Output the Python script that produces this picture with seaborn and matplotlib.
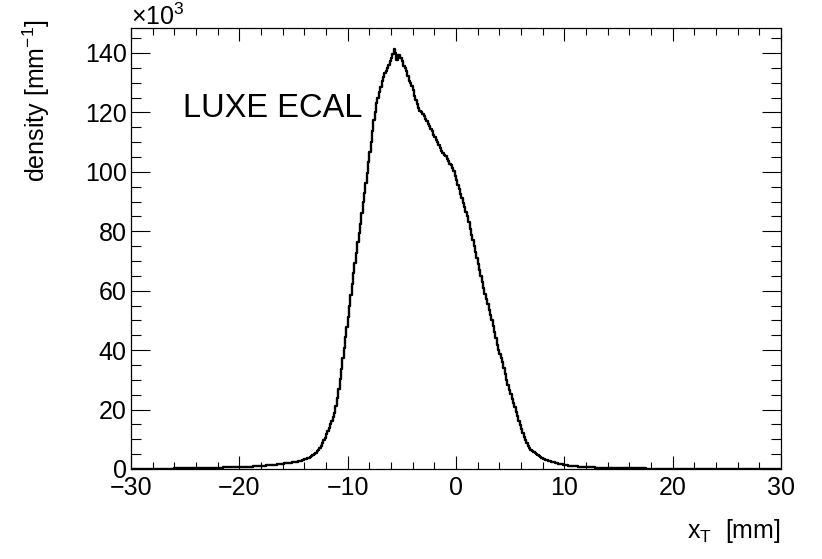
import numpy as np
import pandas as pd
import matplotlib
matplotlib.use("Agg")
import matplotlib.pyplot as plt
import seaborn as sns
from matplotlib.ticker import MultipleLocator

# bin edges of the x_T histogram [mm], 0.125 mm bins
bin_lo, bin_hi, bin_w = -30.0, 30.0, 0.125

# density per bin, in units of 10^3 mm^-1
# -30 .. -13 mm
tail_left = [0.05, 0.05, 0.05, 0.05, 0.06, 0.06, 0.06, 0.06, 0.07, 0.07, 0.07, 0.08, 0.08, 0.08, 0.09, 0.09,
             0.10, 0.10, 0.10, 0.10, 0.11, 0.11, 0.12, 0.12, 0.13, 0.13, 0.14, 0.14, 0.15, 0.15, 0.16, 0.16,
             0.17, 0.17, 0.18, 0.19, 0.20, 0.20, 0.21, 0.22, 0.23, 0.24, 0.25, 0.26, 0.27, 0.28, 0.29, 0.30,
             0.31, 0.32, 0.33, 0.34, 0.35, 0.36, 0.37, 0.38, 0.39, 0.40, 0.41, 0.42, 0.43, 0.44, 0.45, 0.46,
             0.47, 0.48, 0.49, 0.50, 0.51, 0.52, 0.53, 0.54, 0.55, 0.56, 0.57, 0.58, 0.59, 0.60, 0.61, 0.62,
             0.63, 0.65, 0.67, 0.69, 0.71, 0.73, 0.75, 0.77, 0.79, 0.82, 0.85, 0.88, 0.91, 0.94, 0.97, 1.00,
             1.03, 1.07, 1.11, 1.15, 1.19, 1.23, 1.27, 1.32, 1.36, 1.41, 1.46, 1.51, 1.57, 1.63, 1.68, 1.74,
             1.80, 1.86, 1.92, 1.98, 2.04, 2.10, 2.17, 2.24, 2.31, 2.39, 2.47, 2.56, 2.66, 2.78, 2.90, 3.05,
             3.20, 3.40, 3.60, 3.85, 4.10, 4.40, 4.75, 5.15]
# -13 .. -5.75 mm
rise = [5.3, 5.9, 6.4, 7.2, 7.9, 8.7, 9.6, 10.6, 11.7, 12.7, 13.9, 15.1, 16.0, 17.6, 18.8, 21.2,
        24.0, 27.0, 30.3, 33.7, 37.2, 40.8, 44.3, 47.7, 51.2, 54.8, 58.6, 62.4, 65.8, 69.2, 72.7, 76.3,
        79.4, 82.6, 86.1, 89.9, 92.8, 96.2, 99.7, 103.3, 106.8, 110.2, 113.7, 117.3, 120.0, 123.0, 125.0, 127.0,
        128.6, 130.4, 131.9, 133.1, 134.0, 135.0, 135.8, 137.2, 138.2, 139.8, 141.5]
# -5.75 .. 7 mm
fall = [140.1, 137.6, 139.4, 139.2, 138.4, 137.3, 135.7, 135.1, 133.9, 132.4, 130.6, 130.0, 129.0,
        127.6, 125.4, 124.2, 122.8, 121.5, 120.5, 120.2, 119.4, 118.9, 117.7, 117.0, 116.0, 115.5, 114.5,
        113.6, 112.4, 111.7, 110.7, 110.0, 109.0, 108.0, 107.0, 106.4, 105.6, 105.2, 104.4, 103.8, 102.8,
        102.4, 101.2, 100.3, 98.7, 97.3, 95.7, 94.3, 92.7, 91.1, 89.5, 88.1, 86.5, 85.0, 83.0,
        80.8, 78.8, 77.0, 75.0, 73.0, 71.0, 69.0, 67.0, 65.0, 63.0, 61.0, 59.0, 57.2, 55.4,
        53.5, 51.7, 50.0, 48.0, 46.0, 44.0, 41.8, 40.2, 38.8, 37.2, 35.9, 34.1, 31.9, 30.1,
        28.4, 26.6, 25.3, 23.7, 22.3, 20.7, 19.3, 17.7, 16.2, 14.8, 13.5, 12.1, 10.8, 9.6,
        8.7, 7.7, 7.1, 6.5]
# 7 .. 30 mm
tail_right = [6.1, 5.7, 5.3, 4.95, 4.6, 4.3, 4.0, 3.75,
              3.5, 3.3, 3.1, 2.95, 2.8, 2.65, 2.5, 2.35,
              2.2, 2.08, 1.96, 1.85, 1.74, 1.64, 1.55, 1.46,
              1.38, 1.30, 1.23, 1.17, 1.11, 1.06, 1.01, 0.96,
              0.92, 0.88, 0.84, 0.80, 0.77, 0.74, 0.71, 0.68,
              0.65, 0.62, 0.60, 0.58, 0.56, 0.54, 0.52, 0.50,
              0.48, 0.46, 0.45, 0.43, 0.42, 0.40, 0.39, 0.38,
              0.37, 0.35, 0.34, 0.33, 0.32, 0.31, 0.30, 0.29,
              0.28, 0.27, 0.27, 0.26, 0.25, 0.24, 0.24, 0.23,
              0.22, 0.22, 0.21, 0.21, 0.20, 0.20, 0.19, 0.19,
              0.18, 0.18, 0.17, 0.17, 0.16, 0.16, 0.15, 0.15,
              0.15, 0.14, 0.14, 0.14, 0.13, 0.13, 0.13, 0.12,
              0.12, 0.12, 0.11, 0.11, 0.11, 0.11, 0.10, 0.10,
              0.10, 0.10, 0.10, 0.10, 0.09, 0.09, 0.09, 0.09, 0.09, 0.09, 0.09, 0.09, 0.08, 0.08, 0.08, 0.08,
              0.08, 0.08, 0.08, 0.08, 0.07, 0.07, 0.07, 0.07, 0.07, 0.07, 0.07, 0.07, 0.06, 0.06, 0.06, 0.06,
              0.06, 0.06, 0.06, 0.06, 0.06, 0.06, 0.06, 0.06, 0.05, 0.05, 0.05, 0.05, 0.05, 0.05, 0.05, 0.05,
              0.05, 0.05, 0.05, 0.05, 0.05, 0.05, 0.05, 0.05, 0.04, 0.04, 0.04, 0.04, 0.04, 0.04, 0.04, 0.04,
              0.04, 0.04, 0.04, 0.04, 0.04, 0.04, 0.04, 0.04, 0.03, 0.03, 0.03, 0.03, 0.03, 0.03, 0.03, 0.03]

density = tail_left + rise + fall + tail_right
edges = np.arange(bin_lo, bin_hi + bin_w / 2, bin_w)
centers = 0.5 * (edges[:-1] + edges[1:])
df = pd.DataFrame({'x_T': centers, 'density': density})

sns.set_style("ticks")
plt.rcParams['font.family'] = ['Liberation Sans', 'DejaVu Sans']
plt.rcParams['mathtext.fontset'] = 'custom'
plt.rcParams['mathtext.rm'] = 'Liberation Sans'
plt.rcParams['mathtext.it'] = 'Liberation Sans:italic'
plt.rcParams['text.color'] = 'black'
plt.rcParams['axes.labelcolor'] = 'black'

fig = plt.figure(figsize=(8.22, 5.59), dpi=100)
ax = fig.add_axes([131 / 822, 1 - 469 / 559, 650 / 822, 441 / 559])

sns.histplot(data=df, x='x_T', weights='density', bins=list(edges), element="step",
             fill=False, color="black", linewidth=1.7, ax=ax)

ax.set_xlim(-30, 30)
ax.set_ylim(0, 148.4)
ax.xaxis.set_major_locator(MultipleLocator(10))
ax.xaxis.set_minor_locator(MultipleLocator(2))
ax.yaxis.set_major_locator(MultipleLocator(20))
ax.yaxis.set_minor_locator(MultipleLocator(5))

ax.tick_params(axis='both', which='both', direction='in', top=True, right=True,
               color='black', width=0.8, labelsize=18, labelcolor='black')
ax.tick_params(axis='x', which='major', length=9.5, pad=5)
ax.tick_params(axis='x', which='minor', length=4.8)
ax.tick_params(axis='y', which='major', length=14, pad=3)
ax.tick_params(axis='y', which='minor', length=7)
for sp in ax.spines.values():
    sp.set_linewidth(0.9)
    sp.set_color('black')

ax.set_xlabel(r"x$_\mathregular{T}$  [mm]", fontsize=18, loc='right', labelpad=12)
ax.set_ylabel(r"density [mm$^\mathregular{-1}$]", fontsize=18, loc='top')
ax.yaxis.set_label_coords(-0.122, 1.02)

ax.text(0.0, 1.007, r"$\times$10$^\mathregular{3}$", transform=ax.transAxes,
        fontsize=18, ha='left', va='baseline')
ax.text(0.08, 0.798, "LUXE ECAL", transform=ax.transAxes, fontsize=23.5,
        ha='left', va='baseline')

fig.savefig("out.png", dpi=100)
